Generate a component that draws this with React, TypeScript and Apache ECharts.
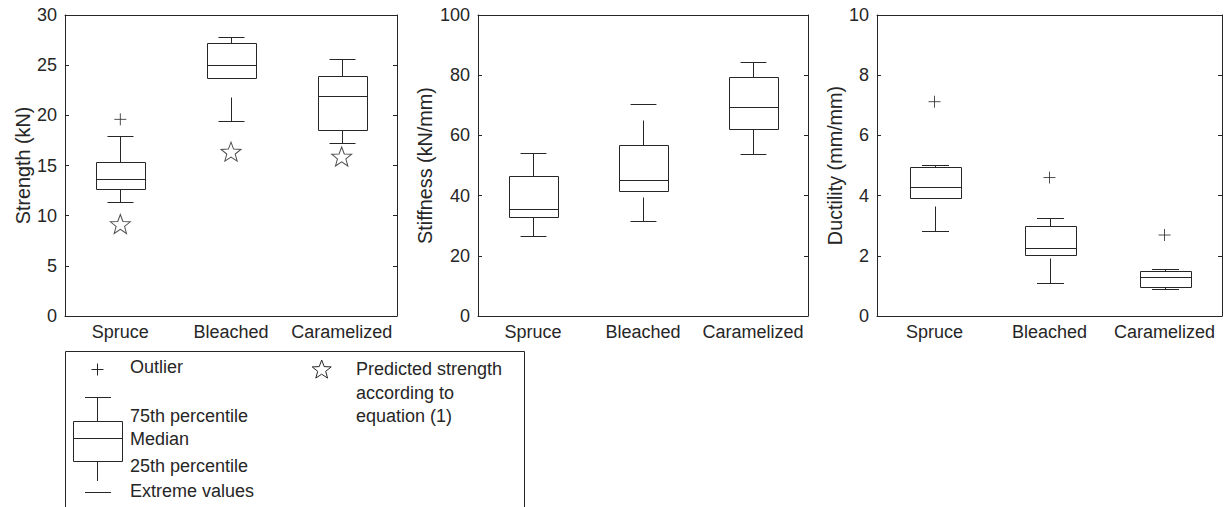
import React, { useEffect, useRef } from "react";
import * as echarts from "echarts";

// ---------- data ----------
const categories = ["Spruce", "Bleached", "Caramelized"];

// [lower extreme, 25th pct, median, 75th pct, upper extreme]
const strengthBoxes = [
  [11.4, 12.62, 13.62, 15.38, 17.9],
  [19.44, 23.69, 24.98, 27.24, 27.77],
  [17.24, 18.5, 21.96, 23.92, 25.65],
];
const strengthLowerWhiskers = [[11.4, 12.62], [19.44, 21.86], [17.24, 18.5]];
const strengthUpperWhiskers = [[15.38, 17.9], [27.24, 27.77], [23.92, 25.65]];
const strengthOutliers = [[0, 19.6]];
const predictedStrength = [9.17, 16.38, 15.9];

const stiffnessBoxes = [
  [26.5, 33.0, 35.65, 46.6, 54.3],
  [31.5, 41.4, 45.2, 56.7, 70.5],
  [53.8, 62.0, 69.3, 79.4, 84.3],
];
const stiffnessLowerWhiskers = [[26.5, 33.0], [31.5, 39.6], [53.8, 62.0]];
const stiffnessUpperWhiskers = [[46.6, 54.3], [56.7, 65.0], [79.4, 84.3]];
const stiffnessOutliers: number[][] = [];

const ductilityBoxes = [
  [2.83, 3.93, 4.29, 4.96, 5.03],
  [1.09, 2.03, 2.25, 2.98, 3.25],
  [0.91, 0.97, 1.29, 1.51, 1.55],
];
const ductilityLowerWhiskers = [[2.83, 3.64], [1.09, 1.92], [0.91, 0.97]];
const ductilityUpperWhiskers = [[4.96, 5.03], [2.98, 3.25], [1.51, 1.55]];
const ductilityOutliers = [[0, 7.12], [1, 4.6], [2, 2.69]];

const strengthTicks = { min: 0, max: 30, interval: 5 };
const stiffnessTicks = { min: 0, max: 100, interval: 20 };
const ductilityTicks = { min: 0, max: 10, interval: 2 };

const legendLeftTexts = ["75th percentile", "Median", "25th percentile", "Extreme values"];
const legendRightTexts = ["Predicted strength", "according to", "equation (1)"];

// ---------- style ----------
const INK = "#262626";
const FONT = "'Liberation Sans', Arial, sans-serif";
const TICK_FS = 18;
const LABEL_FS = 19.8;

function starPts(cx: number, cy: number, R: number, r: number) {
  const pts: number[][] = [];
  for (let k = 0; k < 10; k++) {
    const a = (-90 + k * 36) * Math.PI / 180;
    const rad = k % 2 === 0 ? R : r;
    pts.push([cx + rad * Math.cos(a), cy + rad * Math.sin(a)]);
  }
  return pts;
}
const starPath =
  "path://" +
  starPts(0, 0, 10, 4.2)
    .map((p, i) => (i === 0 ? "M" : "L") + p[0].toFixed(3) + " " + p[1].toFixed(3))
    .join(" ") +
  " Z";
const plusPath = "path://M6 0 L6 12 M0 6 L12 6";

function renderBox(params: any, api: any) {
  const i = api.value(0);
  const low = api.value(1), q1 = api.value(2), med = api.value(3), q3 = api.value(4), high = api.value(5);
  const lwA = api.value(6), lwB = api.value(7), uwA = api.value(8), uwB = api.value(9);
  const band = api.size([1, 0])[0];
  const bw = band * 0.45;
  const cw = band * 0.235;
  const cx = Math.round(api.coord([i, med])[0]) + 0.5;
  const y = (v: number) => Math.round(api.coord([i, v])[1]) + 0.5;
  const style = { stroke: INK, lineWidth: 1, fill: "none" };
  const line = (x1: number, y1: number, x2: number, y2: number) => ({
    type: "line",
    shape: { x1, y1, x2, y2 },
    style,
  });
  const bl = Math.round(cx - bw / 2) + 0.5;
  const br = Math.round(cx + bw / 2) + 0.5;
  return {
    type: "group",
    children: [
      { type: "rect", shape: { x: bl, y: y(q3), width: br - bl, height: y(q1) - y(q3) }, style },
      line(bl, y(med), br, y(med)),
      line(cx, y(lwA), cx, y(lwB)),
      line(cx, y(uwA), cx, y(uwB)),
      line(cx - cw / 2, y(low), cx + cw / 2, y(low)),
      line(cx - cw / 2, y(high), cx + cw / 2, y(high)),
    ],
  };
}

function boxData(boxes: number[][], lower: number[][], upper: number[][]) {
  return categories.map((_, i) => [i, ...boxes[i], ...lower[i], ...upper[i]]);
}

const grids = [
  { left: 65, top: 15, width: 332, height: 301 },
  { left: 478, top: 15, width: 330, height: 301 },
  { left: 877, top: 15, width: 345, height: 301 },
];

export default function App() {
  const ref = useRef<HTMLDivElement>(null);
  useEffect(() => {
    if (!ref.current) return;
    const chart = echarts.init(ref.current, undefined, { renderer: "svg" });

    const textStyle = { color: INK, fontFamily: FONT, fontSize: TICK_FS };
    const axisLine = { show: true, onZero: false, lineStyle: { color: INK, width: 1 } };

    const xAxes: any[] = [];
    const yAxes: any[] = [];
    for (let g = 0; g < 3; g++) {
      xAxes.push({
        type: "category",
        gridIndex: g,
        data: categories,
        position: "bottom",
        axisLine,
        axisTick: { inside: true, alignWithLabel: true, length: 4, lineStyle: { color: INK } },
        axisLabel: { ...textStyle, margin: 7, interval: 0, hideOverlap: false },
        splitLine: { show: false },
      });
    }
    for (let g = 0; g < 3; g++) {
      xAxes.push({
        type: "category",
        gridIndex: g,
        data: categories,
        position: "top",
        axisLine,
        axisTick: { inside: true, alignWithLabel: true, length: 4, lineStyle: { color: INK } },
        axisLabel: { show: false },
        splitLine: { show: false },
      });
    }
    const ticks = [strengthTicks, stiffnessTicks, ductilityTicks];
    const names = ["Strength (kN)", "Stiffness (kN/mm)", "Ductility (mm/mm)"];
    const gaps = [32, 43, 32];
    for (let g = 0; g < 3; g++) {
      yAxes.push({
        type: "value",
        gridIndex: g,
        position: "left",
        ...ticks[g],
        name: names[g],
        nameLocation: "middle",
        nameGap: gaps[g],
        nameTextStyle: { color: INK, fontFamily: FONT, fontSize: LABEL_FS },
        axisLine,
        axisTick: { show: true, inside: true, length: 4, lineStyle: { color: INK } },
        axisLabel: { ...textStyle, margin: 8 },
        splitLine: { show: false },
      });
    }
    for (let g = 0; g < 3; g++) {
      yAxes.push({
        type: "value",
        gridIndex: g,
        position: "right",
        ...ticks[g],
        axisLine,
        axisTick: { show: true, inside: true, length: 4, lineStyle: { color: INK } },
        axisLabel: { show: false },
        splitLine: { show: false },
      });
    }

    const boxSets = [
      boxData(strengthBoxes, strengthLowerWhiskers, strengthUpperWhiskers),
      boxData(stiffnessBoxes, stiffnessLowerWhiskers, stiffnessUpperWhiskers),
      boxData(ductilityBoxes, ductilityLowerWhiskers, ductilityUpperWhiskers),
    ];
    const outlierSets = [strengthOutliers, stiffnessOutliers, ductilityOutliers];

    const series: any[] = [];
    for (let g = 0; g < 3; g++) {
      series.push({
        type: "custom",
        xAxisIndex: g,
        yAxisIndex: g,
        renderItem: renderBox,
        encode: { x: 0, y: [1, 2, 3, 4, 5] },
        data: boxSets[g],
        silent: true,
      });
      series.push({
        type: "scatter",
        xAxisIndex: g,
        yAxisIndex: g,
        symbol: plusPath,
        symbolSize: 12,
        itemStyle: { color: "transparent", borderColor: INK, borderWidth: 1 },
        data: outlierSets[g],
        silent: true,
      });
    }
    series.push({
      type: "scatter",
      xAxisIndex: 0,
      yAxisIndex: 0,
      symbol: starPath,
      symbolSize: [20, 19],
      itemStyle: { color: "#fff", borderColor: INK, borderWidth: 1 },
      data: predictedStrength.map((v, i) => [i, v]),
      silent: true,
      z: 3,
    });

    const lt = { fill: INK, fontFamily: FONT, fontSize: 18, verticalAlign: "middle", align: "left" };
    const ls = { stroke: INK, lineWidth: 1, fill: "none" };
    const ln = (x1: number, y1: number, x2: number, y2: number) => ({
      type: "line",
      shape: { x1, y1, x2, y2 },
      style: ls,
    });
    const leftYs = [416, 439, 465.5, 491];
    const rightYs = [369, 393, 416];
    const graphic: any[] = [
      { type: "rect", shape: { x: 65.5, y: 351.5, width: 459, height: 200 }, style: ls },
      ln(97.5, 363.5, 97.5, 375.5),
      ln(91.5, 369.5, 103.5, 369.5),
      { type: "text", x: 130, y: 367, style: { ...lt, text: "Outlier" } },
      ln(85, 397.5, 111, 397.5),
      ln(97.5, 397.5, 97.5, 421.5),
      { type: "rect", shape: { x: 73.5, y: 421.5, width: 49, height: 40 }, style: ls },
      ln(73.5, 438.5, 122.5, 438.5),
      ln(97.5, 461.5, 97.5, 481),
      ln(85, 492.5, 111, 492.5),
      ...legendLeftTexts.map((t, i) => ({ type: "text", x: 130, y: leftYs[i], style: { ...lt, text: t } })),
      {
        type: "polygon",
        shape: { points: starPts(321.7, 370, 10, 4.2) },
        style: { stroke: INK, lineWidth: 1, fill: "#fff" },
      },
      ...legendRightTexts.map((t, i) => ({ type: "text", x: 356, y: rightYs[i], style: { ...lt, text: t } })),
    ];

    chart.setOption({
      animation: false,
      backgroundColor: "#fff",
      grid: grids,
      xAxis: xAxes,
      yAxis: yAxes,
      series,
      graphic,
    });
    return () => chart.dispose();
  }, []);
  return (
    <div
      ref={ref}
      style={{ position: "fixed", left: 0, top: 0, width: 1226, height: 507, background: "#fff" }}
    />
  );
}
